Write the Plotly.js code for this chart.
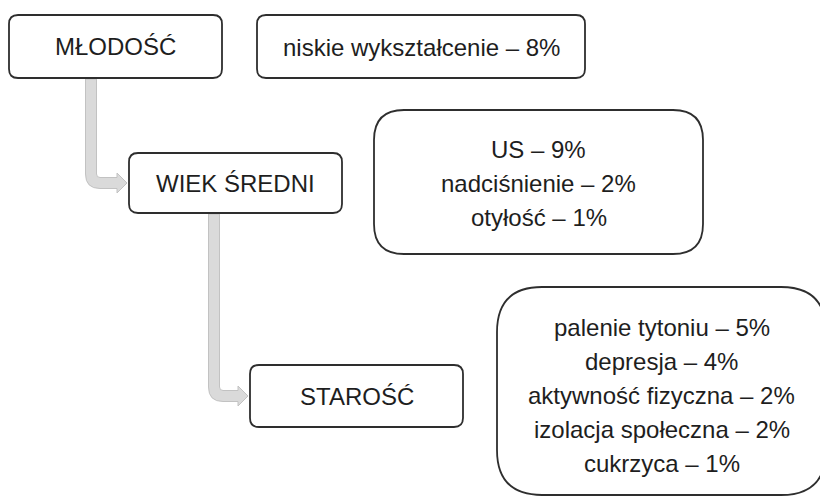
<!DOCTYPE html>
<html>
<head>
<meta charset="utf-8">
<script src="https://cdn.plot.ly/plotly-3.0.1.min.js"></script>
<style>html,body{margin:0;padding:0;background:#fff;}#chart{width:820px;height:496px;}</style>
</head>
<body>
<div id="chart"></div>
<script>
// ---- data ----
const stages = ['MŁODOŚĆ', 'WIEK ŚREDNI', 'STAROŚĆ'];
const youthFactors = ['niskie wykształcenie'];
const youthPct = [8];
const midFactors = ['US', 'nadciśnienie', 'otyłość'];
const midPct = [9, 2, 1];
const oldFactors = ['palenie tytoniu', 'depresja', 'aktywność fizyczna', 'izolacja społeczna', 'cukrzyca'];
const oldPct = [5, 4, 2, 2, 1];

// ---- layout geometry (pixels) ----
const stageBoxes = [
  {x0: 9, y0: 15, x1: 222, y1: 78, r: 9},
  {x0: 129, y0: 153, x1: 342, y1: 213, r: 9},
  {x0: 250, y0: 365, x1: 463, y1: 427, r: 9}
];
const factorBoxes = [
  {x0: 257, y0: 15, x1: 585, y1: 78, r: 9, cy: 47},
  {x0: 374, y0: 110, x1: 703, y1: 254, r: 30, cy: 183},
  {x0: 497, y0: 287, x1: 826, y1: 495, r: 45, cy: 395}
];
const arrowX = [91, 214];
const LINE_GAP = 34;
const FONT = {family: 'Liberation Sans, Arial, sans-serif', size: 24, color: '#1e1e1e'};

const factorGroups = [
  youthFactors.map((f, i) => f + ' – ' + youthPct[i] + '%'),
  midFactors.map((f, i) => f + ' – ' + midPct[i] + '%'),
  oldFactors.map((f, i) => f + ' – ' + oldPct[i] + '%')
];

function roundRect(b) {
  const {x0, y0, x1, y1, r} = b;
  return `M${x0 + r},${y0} L${x1 - r},${y0} Q${x1},${y0} ${x1},${y0 + r} L${x1},${y1 - r} Q${x1},${y1} ${x1 - r},${y1} ` +
         `L${x0 + r},${y1} Q${x0},${y1} ${x0},${y1 - r} L${x0},${y0 + r} Q${x0},${y0} ${x0 + r},${y0} Z`;
}

function arrowPath(cx, yTop, target) {
  const w = 5.5, r = 9, hh = 10, hl = 10;
  const cy = (target.y0 + target.y1) / 2;
  const tx = target.x0 - 2;
  const hx = tx - hl;
  const R = r + w, ri = Math.max(r - w, 1);
  return `M${cx - w},${yTop} L${cx - w},${cy + w - R} Q${cx - w},${cy + w} ${cx - w + R},${cy + w} ` +
         `L${hx},${cy + w} L${hx},${cy + hh} L${tx},${cy} L${hx},${cy - hh} L${hx},${cy - w} ` +
         `L${cx + w + ri},${cy - w} Q${cx + w},${cy - w} ${cx + w},${cy - w - ri} L${cx + w},${yTop} Z`;
}

const shapes = [];
const annotations = [];

// arrows
for (let i = 0; i < 2; i++) {
  shapes.push({type: 'path', xref: 'x', yref: 'y', path: arrowPath(arrowX[i], stageBoxes[i].y1 + 1, stageBoxes[i + 1]),
    fillcolor: '#dadada', line: {color: '#c2c2c2', width: 1}, layer: 'below'});
}

// stage boxes
stageBoxes.forEach((b, i) => {
  shapes.push({type: 'path', xref: 'x', yref: 'y', path: roundRect(b), fillcolor: 'rgba(255,255,255,0)', line: {color: '#2e2e2e', width: 1.8}});
  annotations.push({xref: 'x', yref: 'y', x: (b.x0 + b.x1) / 2, y: (b.y0 + b.y1) / 2, text: stages[i],
    showarrow: false, xanchor: 'center', yanchor: 'middle', font: FONT});
});

// factor boxes
factorBoxes.forEach((b, i) => {
  shapes.push({type: 'path', xref: 'x', yref: 'y', path: roundRect(b), fillcolor: 'rgba(255,255,255,0)', line: {color: '#2e2e2e', width: 1.8}});
  const lines = factorGroups[i];
  const cx = (Math.max(b.x0, 0) + b.x1) / 2;
  lines.forEach((t, j) => {
    annotations.push({xref: 'x', yref: 'y', x: cx, y: b.cy + (j - (lines.length - 1) / 2) * LINE_GAP, text: t,
      showarrow: false, xanchor: 'center', yanchor: 'middle', font: FONT});
  });
});

const layout = {
  width: 820, height: 496,
  margin: {l: 0, r: 0, t: 0, b: 0},
  paper_bgcolor: '#fff', plot_bgcolor: '#fff',
  xaxis: {range: [0, 820], visible: false, fixedrange: true},
  yaxis: {range: [496, 0], visible: false, fixedrange: true},
  showlegend: false,
  shapes: shapes,
  annotations: annotations
};

Plotly.newPlot('chart', [], layout, {staticPlot: true, displayModeBar: false});
</script>
</body>
</html>
